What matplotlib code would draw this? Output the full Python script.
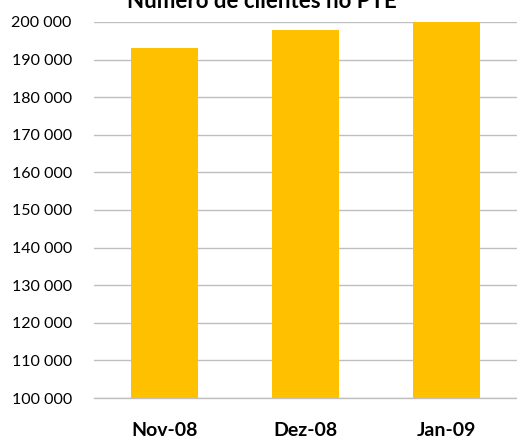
import matplotlib
matplotlib.use("Agg")
import matplotlib.pyplot as plt
from matplotlib.ticker import FuncFormatter

categories = ["Nov-08", "Dez-08", "Jan-09"]
values = [193000, 198000, 200000]
yticks = list(range(100000, 200001, 10000))
title = "Número de clientes no PTE"

plt.rcParams['font.family'] = ['Lato', 'DejaVu Sans']

fig = plt.figure(figsize=(5.17, 4.36), dpi=100)
ax = fig.add_axes([94/517, 1-398/436, 1-94/517, (398-22)/436])
ax.bar(range(len(categories)), values, width=0.48, color="#FFC000", zorder=2)
ax.set_xlim(-0.5, 2.5)
ax.set_ylim(100000, 200000)
ax.set_yticks(yticks)
ax.yaxis.set_major_formatter(FuncFormatter(lambda v, p: f"{int(v):,}".replace(",", " ")))
ax.set_xticks(range(len(categories)))
ax.set_xticklabels(categories, fontweight="bold", fontsize=14)
ax.tick_params(axis='y', length=0, pad=16, labelsize=11.5)
ax.tick_params(axis='x', length=0, pad=17)
ax.grid(axis='y', color="#BFBFBF", linewidth=1, zorder=0)
for s in ['top', 'right', 'left']:
    ax.spines[s].set_visible(False)
ax.spines['bottom'].set_color("#BFBFBF")
ax.spines['bottom'].set_linewidth(1)
fig.text(262/517, 1-8/436, title, ha='center', va='baseline', fontsize=16, fontweight='bold')
fig.savefig("out.png", dpi=100)
